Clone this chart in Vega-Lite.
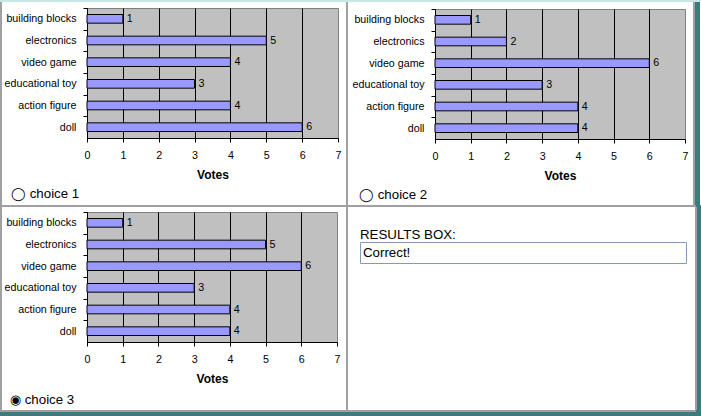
{
  "$schema": "https://vega.github.io/schema/vega-lite/v6.json",
  "padding": 0,
  "background": "white",
  "config": {
    "view": {"stroke": null},
    "axis": {"labelFont": "Liberation Sans", "labelFontSize": 10.7, "labelColor": "black", "titleFont": "Liberation Sans", "titleColor": "black", "domainColor": "black", "tickColor": "black", "tickSize": 4},
    "title": {"font": "Liberation Sans", "fontSize": 13.3, "fontWeight": "normal", "color": "black", "anchor": "start", "frame": "group"},
    "text": {"font": "Liberation Sans"}
  },
  "datasets": {
    "c1": [
      {"toy": "building blocks", "votes": 1},
      {"toy": "electronics", "votes": 5},
      {"toy": "video game", "votes": 4},
      {"toy": "educational toy", "votes": 3},
      {"toy": "action figure", "votes": 4},
      {"toy": "doll", "votes": 6}
    ],
    "c2": [
      {"toy": "building blocks", "votes": 1},
      {"toy": "electronics", "votes": 2},
      {"toy": "video game", "votes": 6},
      {"toy": "educational toy", "votes": 3},
      {"toy": "action figure", "votes": 4},
      {"toy": "doll", "votes": 4}
    ],
    "c3": [
      {"toy": "building blocks", "votes": 1},
      {"toy": "electronics", "votes": 5},
      {"toy": "video game", "votes": 6},
      {"toy": "educational toy", "votes": 3},
      {"toy": "action figure", "votes": 4},
      {"toy": "doll", "votes": 4}
    ],
    "result": [{"message": "Correct!"}]
  },
  "spacing": 0,
  "vconcat": [
    {"width": 701, "height": 2, "data": {"values": []}, "mark": "point", "view": {"fill": "#C8E6E6", "stroke": null}},
    {"spacing": 0, "hconcat": [
      {"width": 2, "height": 203, "data": {"values": []}, "mark": "point", "view": {"fill": "#A0A0A0", "stroke": null}},
      {"spacing": 0, "bounds": "flush", "vconcat": [
        {"width": 1, "height": 6, "data": {"values": []}, "mark": "point", "view": {"fill": "white", "stroke": null}},
        {
          "width": 251, "height": 130,
          "data": {"name": "c1"},
          "view": {"fill": "#C0C0C0", "stroke": "#808080"},
          "title": {"text": "◯ choice 1", "orient": "bottom", "dx": -76, "offset": 6},
          "encoding": {
            "y": {"field": "toy", "type": "nominal", "sort": ["building blocks", "electronics", "video game", "educational toy", "action figure", "doll"], "scale": {"paddingInner": 0, "paddingOuter": 0},
              "axis": {"title": null, "tickOffset": -10.833, "labelOffset": 10.833, "labelPadding": 7, "minExtent": 84, "maxExtent": 84, "grid": false, "labelLimit": 0}},
            "x": {"field": "votes", "type": "quantitative", "scale": {"domain": [0, 7], "nice": false},
              "axis": {"title": "Votes", "values": [0, 1, 2, 3, 4, 5, 6, 7], "format": "d", "labelPadding": 8, "labelFlush": false, "labelOverlap": false, "grid": true, "gridColor": {"condition": {"test": "datum.value === 7", "value": "transparent"}, "value": "black"}, "gridOpacity": 1, "titleFontSize": 12, "titleFontWeight": "bold", "titlePadding": 10}}
          },
          "layer": [
            {"mark": {"type": "bar", "height": {"band": 0.4}, "fill": "#9999FF", "stroke": "black", "strokeWidth": 1}},
            {"mark": {"type": "text", "align": "left", "baseline": "middle", "dx": 4, "fontSize": 10.7, "color": "black"}, "encoding": {"text": {"field": "votes", "type": "quantitative"}}}
          ]
        }
      ]},
      {"width": 4, "height": 203, "data": {"values": []}, "mark": "point", "view": {"fill": "white", "stroke": null}},
      {"width": 2, "height": 203, "data": {"values": []}, "mark": "point", "view": {"fill": "#A0A0A0", "stroke": null}},
      {"spacing": 0, "bounds": "flush", "vconcat": [
        {"width": 1, "height": 7, "data": {"values": []}, "mark": "point", "view": {"fill": "white", "stroke": null}},
        {
          "width": 250, "height": 130,
          "data": {"name": "c2"},
          "view": {"fill": "#C0C0C0", "stroke": "#808080"},
          "title": {"text": "◯ choice 2", "orient": "bottom", "dx": -76, "offset": 6},
          "encoding": {
            "y": {"field": "toy", "type": "nominal", "sort": ["building blocks", "electronics", "video game", "educational toy", "action figure", "doll"], "scale": {"paddingInner": 0, "paddingOuter": 0},
              "axis": {"title": null, "tickOffset": -10.833, "labelOffset": 10.833, "labelPadding": 7, "minExtent": 86, "maxExtent": 86, "grid": false, "labelLimit": 0}},
            "x": {"field": "votes", "type": "quantitative", "scale": {"domain": [0, 7], "nice": false},
              "axis": {"title": "Votes", "values": [0, 1, 2, 3, 4, 5, 6, 7], "format": "d", "labelPadding": 8, "labelFlush": false, "labelOverlap": false, "grid": true, "gridColor": {"condition": {"test": "datum.value === 7", "value": "transparent"}, "value": "black"}, "gridOpacity": 1, "titleFontSize": 12, "titleFontWeight": "bold", "titlePadding": 10}}
          },
          "layer": [
            {"mark": {"type": "bar", "height": {"band": 0.4}, "fill": "#9999FF", "stroke": "black", "strokeWidth": 1}},
            {"mark": {"type": "text", "align": "left", "baseline": "middle", "dx": 4, "fontSize": 10.7, "color": "black"}, "encoding": {"text": {"field": "votes", "type": "quantitative"}}}
          ]
        }
      ]},
      {"width": 4, "height": 203, "data": {"values": []}, "mark": "point", "view": {"fill": "white", "stroke": null}},
      {"width": 2, "height": 203, "data": {"values": []}, "mark": "point", "view": {"fill": "#A0A0A0", "stroke": null}},
      {"width": 5, "height": 203, "data": {"values": []}, "mark": "point", "view": {"fill": "#3B7B7B", "stroke": null}}
    ]},
    {"spacing": 0, "hconcat": [
      {"width": 696, "height": 2, "data": {"values": []}, "mark": "point", "view": {"fill": "#A0A0A0", "stroke": null}},
      {"width": 5, "height": 2, "data": {"values": []}, "mark": "point", "view": {"fill": "#3B7B7B", "stroke": null}}
    ]},
    {"spacing": 0, "hconcat": [
      {"width": 2, "height": 203, "data": {"values": []}, "mark": "point", "view": {"fill": "#A0A0A0", "stroke": null}},
      {"spacing": 0, "bounds": "flush", "vconcat": [
        {"width": 1, "height": 5, "data": {"values": []}, "mark": "point", "view": {"fill": "white", "stroke": null}},
        {
          "width": 250, "height": 130,
          "data": {"name": "c3"},
          "view": {"fill": "#C0C0C0", "stroke": "#808080"},
          "title": {"text": "◉ choice 3", "orient": "bottom", "dx": -77, "offset": 8},
          "encoding": {
            "y": {"field": "toy", "type": "nominal", "sort": ["building blocks", "electronics", "video game", "educational toy", "action figure", "doll"], "scale": {"paddingInner": 0, "paddingOuter": 0},
              "axis": {"title": null, "tickOffset": -10.833, "labelOffset": 10.833, "labelPadding": 7, "minExtent": 84, "maxExtent": 84, "grid": false, "labelLimit": 0}},
            "x": {"field": "votes", "type": "quantitative", "scale": {"domain": [0, 7], "nice": false},
              "axis": {"title": "Votes", "values": [0, 1, 2, 3, 4, 5, 6, 7], "format": "d", "labelPadding": 8, "labelFlush": false, "labelOverlap": false, "grid": true, "gridColor": {"condition": {"test": "datum.value === 7", "value": "transparent"}, "value": "black"}, "gridOpacity": 1, "titleFontSize": 12, "titleFontWeight": "bold", "titlePadding": 10}}
          },
          "layer": [
            {"mark": {"type": "bar", "height": {"band": 0.4}, "fill": "#9999FF", "stroke": "black", "strokeWidth": 1}},
            {"mark": {"type": "text", "align": "left", "baseline": "middle", "dx": 4, "fontSize": 10.7, "color": "black"}, "encoding": {"text": {"field": "votes", "type": "quantitative"}}}
          ]
        }
      ]},
      {"width": 5, "height": 203, "data": {"values": []}, "mark": "point", "view": {"fill": "white", "stroke": null}},
      {"width": 2, "height": 203, "data": {"values": []}, "mark": "point", "view": {"fill": "#A0A0A0", "stroke": null}},
      {"width": 11, "height": 203, "data": {"values": []}, "mark": "point", "view": {"fill": "white", "stroke": null}},
      {"spacing": 0, "bounds": "flush", "vconcat": [
        {"width": 1, "height": 35, "data": {"values": []}, "mark": "point", "view": {"fill": "white", "stroke": null}},
        {
          "width": 326, "height": 21,
          "data": {"name": "result"},
          "view": {"fill": "white", "stroke": "#7F9DB9"},
          "title": {"text": "RESULTS BOX:", "orient": "top", "offset": 1},
          "mark": {"type": "text", "align": "left", "baseline": "middle", "dx": 3, "fontSize": 13.3, "color": "black"},
          "encoding": {
            "text": {"field": "message", "type": "nominal"},
            "x": {"datum": 0, "type": "quantitative", "scale": {"domain": [0, 1]}, "axis": null}
          }
        }
      ]},
      {"width": 8, "height": 203, "data": {"values": []}, "mark": "point", "view": {"fill": "white", "stroke": null}},
      {"width": 2, "height": 203, "data": {"values": []}, "mark": "point", "view": {"fill": "#A0A0A0", "stroke": null}},
      {"width": 5, "height": 203, "data": {"values": []}, "mark": "point", "view": {"fill": "#3B7B7B", "stroke": null}}
    ]},
    {"spacing": 0, "hconcat": [
      {"width": 696, "height": 2, "data": {"values": []}, "mark": "point", "view": {"fill": "#A0A0A0", "stroke": null}},
      {"width": 5, "height": 2, "data": {"values": []}, "mark": "point", "view": {"fill": "#3B7B7B", "stroke": null}}
    ]},
    {"width": 701, "height": 4, "data": {"values": []}, "mark": "point", "view": {"fill": "#3B7B7B", "stroke": null}}
  ]
}
